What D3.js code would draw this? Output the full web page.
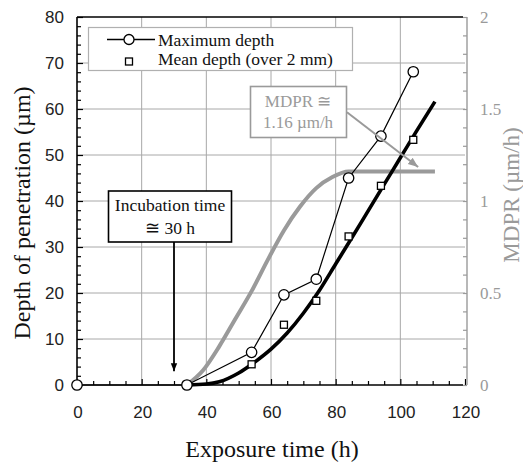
<!DOCTYPE html>
<html><head><meta charset="utf-8">
<script src="https://cdn.jsdelivr.net/npm/d3@7"></script>
<style>body{margin:0;background:#fff}svg{display:block}</style>
</head><body>
<svg id="c" width="523" height="464"></svg>
<script>
// ---- data ----
const maxDepth = [[0,0],[34,0],[54,7.1],[64,19.6],[74,23],[84,45],[94,54.1],[104,68.1]];
const meanDepth = [[34,0],[54,4.5],[64,13.1],[74,18.3],[84,32.3],[94,43.3],[104,53.3]];
const fitDepth = [[34,0],[40,0.2],[44,0.7],[50,2.6],[55,5],[60,7.8],[65,11.3],[70,15.6],[75,20.6],[80,26.3],[85,32],[90,37.8],[95,43.6],[100,49.4],[105,55.2],[110.7,61.6]];
const mdpr = [[34,0],[39,0.08],[44,0.21],[49,0.36],[54,0.51],[59,0.68],[64,0.84],[69,0.97],[74,1.07],[79,1.13],[84,1.16],[110.7,1.16]];
const xTicks = [0,20,40,60,80,100,120];
const yTicks = [0,10,20,30,40,50,60,70,80];
const y2Ticks = [0,0.5,1,1.5,2];
const y2TickLabels = ["0","0.5","1","1.5","2"];

const svg = d3.select("#c");
const L=77, R=465, T=17, B=385;
const x = d3.scaleLinear().domain([0,120]).range([L,R]);
const y = d3.scaleLinear().domain([0,80]).range([B,T]);
const y2 = d3.scaleLinear().domain([0,2]).range([B,T]);
const grey = "#9a9a9a";
const serif = "'Liberation Serif','Times New Roman',serif";
const sans = "'Liberation Sans',Arial,sans-serif";

// grid
const g = svg.append("g");
g.selectAll(".vg").data(xTicks.filter(d=>d>0&&d<120)).join("line")
  .attr("x1",d=>x(d)).attr("x2",d=>x(d)).attr("y1",T).attr("y2",B)
  .attr("stroke","#a8a8a8").attr("stroke-width",1);
g.selectAll(".hg").data(yTicks.filter(d=>d>0&&d<80)).join("line")
  .attr("x1",L).attr("x2",R).attr("y1",d=>y(d)).attr("y2",d=>y(d))
  .attr("stroke","#a8a8a8").attr("stroke-width",1);

// axes
const left = svg.append("g").attr("transform",`translate(${L},0)`)
  .call(d3.axisRight(y).tickValues(d3.range(0,81,2)).tickSize(4).tickFormat(""));
left.selectAll(".tick line").attr("stroke","#000").attr("stroke-width",1.2)
  .attr("x2",(d)=>d%10===0?6:4);
left.select(".domain").remove();
svg.append("line").attr("x1",L).attr("x2",L).attr("y1",T).attr("y2",B).attr("stroke","#000").attr("stroke-width",1.6);
svg.append("g").selectAll("text").data(yTicks).join("text")
  .attr("x",L-13).attr("y",d=>y(d)).attr("dy","0.36em").attr("text-anchor","end")
  .attr("font-family",sans).attr("font-size",17).attr("fill","#222").text(d=>d);

const bottom = svg.append("g").attr("transform",`translate(0,${B})`)
  .call(d3.axisTop(x).tickValues(d3.range(0,121,5)).tickSize(4).tickFormat(""));
bottom.selectAll(".tick line").attr("stroke","#000").attr("stroke-width",1.2)
  .attr("y2",(d)=>d%20===0?-6:-4);
bottom.select(".domain").remove();
svg.append("line").attr("x1",L).attr("x2",R-2).attr("y1",B).attr("y2",B).attr("stroke","#000").attr("stroke-width",1.6);
svg.append("line").attr("x1",L).attr("x2",R-2).attr("y1",T).attr("y2",T).attr("stroke","#000").attr("stroke-width",1.6);
svg.append("g").selectAll("text").data(xTicks).join("text")
  .attr("x",d=>x(d)+1).attr("y",B+33).attr("text-anchor","middle")
  .attr("font-family",sans).attr("font-size",17).attr("fill","#222").text(d=>d);

// right axis
const right = svg.append("g").attr("transform",`translate(${R+2},0)`)
  .call(d3.axisLeft(y2).tickValues(d3.range(0,2.001,0.1)).tickSize(4).tickFormat(""));
right.selectAll(".tick line").attr("stroke",grey).attr("stroke-width",1.2);
right.select(".domain").attr("stroke",grey).attr("stroke-width",1.4).attr("d",`M0,${T}V${B}`);
svg.append("g").selectAll("text").data(y2Ticks).join("text")
  .attr("x",R+15).attr("y",d=>y2(d)).attr("dy","0.36em")
  .attr("font-family",serif).attr("font-size",17).attr("fill",grey).text((d,i)=>y2TickLabels[i]);

// titles
svg.append("text").attr("transform",`translate(22,${(T+B)/2+12}) rotate(-90)`)
  .attr("text-anchor","middle").attr("dominant-baseline","central")
  .attr("font-family",serif).attr("font-size",24).attr("fill","#111").text("Depth of penetration (µm)");
svg.append("text").attr("x",272).attr("y",457).attr("text-anchor","middle")
  .attr("font-family",serif).attr("font-size",24).attr("fill","#111").text("Exposure time (h)");
svg.append("text").attr("transform",`translate(511,${195}) rotate(-90)`)
  .attr("text-anchor","middle").attr("dominant-baseline","central")
  .attr("font-family",serif).attr("font-size",23).attr("fill",grey).text("MDPR (µm/h)");

// curves
const line = d3.line().x(d=>x(d[0])).y(d=>y(d[1]));
const line2 = d3.line().x(d=>x(d[0])).y(d=>y2(d[1])).curve(d3.curveMonotoneX);
svg.append("path").datum(mdpr).attr("d",line2).attr("fill","none").attr("stroke",grey).attr("stroke-width",4);
svg.append("path").datum(fitDepth).attr("d",line.curve(d3.curveMonotoneX)).attr("fill","none").attr("stroke","#000").attr("stroke-width",3.6);
svg.append("path").datum(maxDepth).attr("d",d3.line().x(d=>x(d[0])).y(d=>y(d[1]))).attr("fill","none").attr("stroke","#000").attr("stroke-width",1.2);
svg.append("g").selectAll("rect").data(meanDepth).join("rect")
  .attr("x",d=>x(d[0])-3.5).attr("y",d=>y(d[1])-3.5).attr("width",7).attr("height",7)
  .attr("fill","#fff").attr("stroke","#000").attr("stroke-width",1.3);
svg.append("g").selectAll("circle").data(maxDepth).join("circle")
  .attr("cx",d=>x(d[0])).attr("cy",d=>y(d[1])).attr("r",5.2)
  .attr("fill","#fff").attr("stroke","#000").attr("stroke-width",1.3);

// arrow markers
const defs = svg.append("defs");
defs.append("marker").attr("id","ab").attr("viewBox","0 0 10 10").attr("refX",10).attr("refY",5)
  .attr("markerWidth",8).attr("markerHeight",8).attr("markerUnits","userSpaceOnUse").attr("orient","auto")
  .append("path").attr("d","M0,1L10,5L0,9Z").attr("fill","#000");
defs.append("marker").attr("id","ag").attr("viewBox","0 0 10 10").attr("refX",10).attr("refY",5)
  .attr("markerWidth",10).attr("markerHeight",10).attr("markerUnits","userSpaceOnUse").attr("orient","auto")
  .append("path").attr("d","M0,1L10,5L0,9Z").attr("fill",grey);

// legend
const lg = svg.append("g");
lg.append("rect").attr("x",88.5).attr("y",27.5).attr("width",264).attr("height",43)
  .attr("fill","#fff").attr("stroke","#b0b0b0").attr("stroke-width",1.2);
lg.append("line").attr("x1",107).attr("x2",155).attr("y1",39.5).attr("y2",39.5).attr("stroke","#000").attr("stroke-width",1.3);
lg.append("circle").attr("cx",129).attr("cy",39.5).attr("r",5).attr("fill","#fff").attr("stroke","#000").attr("stroke-width",1.3);
lg.append("rect").attr("x",125.5).attr("y",58).attr("width",7).attr("height",7).attr("fill","#fff").attr("stroke","#000").attr("stroke-width",1.3);
lg.append("text").attr("x",158).attr("y",46).attr("font-family",serif).attr("font-size",17.5).attr("fill","#111").text("Maximum depth");
lg.append("text").attr("x",158).attr("y",65).attr("font-family",serif).attr("font-size",17.5).attr("fill","#111").text("Mean depth (over 2 mm)");

// MDPR annotation
svg.append("line").attr("x1",x(83.5)).attr("y1",y(59.3)).attr("x2",x(105.5)).attr("y2",y2(1.185))
  .attr("stroke",grey).attr("stroke-width",2).attr("marker-end","url(#ag)");
const mb = svg.append("g");
mb.append("rect").attr("x",250.5).attr("y",86.5).attr("width",96).attr("height",51)
  .attr("fill","#fff").attr("stroke",grey).attr("stroke-width",1.6);
mb.append("text").attr("x",298).attr("y",107).attr("text-anchor","middle").attr("font-family",serif).attr("font-size",17).attr("fill",grey).text("MDPR ≅");
mb.append("text").attr("x",298).attr("y",128).attr("text-anchor","middle").attr("font-family",serif).attr("font-size",17).attr("fill",grey).text("1.16 µm/h");

// incubation annotation
svg.append("line").attr("x1",x(30)).attr("y1",242).attr("x2",x(30)).attr("y2",y(3))
  .attr("stroke","#000").attr("stroke-width",1.8).attr("marker-end","url(#ab)");
const ib = svg.append("g");
ib.append("rect").attr("x",108.5).attr("y",191).attr("width",123).attr("height",51)
  .attr("fill","#fff").attr("stroke","#000").attr("stroke-width",1.6);
ib.append("text").attr("x",170).attr("y",211).attr("text-anchor","middle").attr("font-family",serif).attr("font-size",17.5).attr("fill","#111").text("Incubation time");
ib.append("text").attr("x",170).attr("y",234).attr("text-anchor","middle").attr("font-family",serif).attr("font-size",17.5).attr("fill","#111").text("≅ 30 h");
</script>
</body></html>
